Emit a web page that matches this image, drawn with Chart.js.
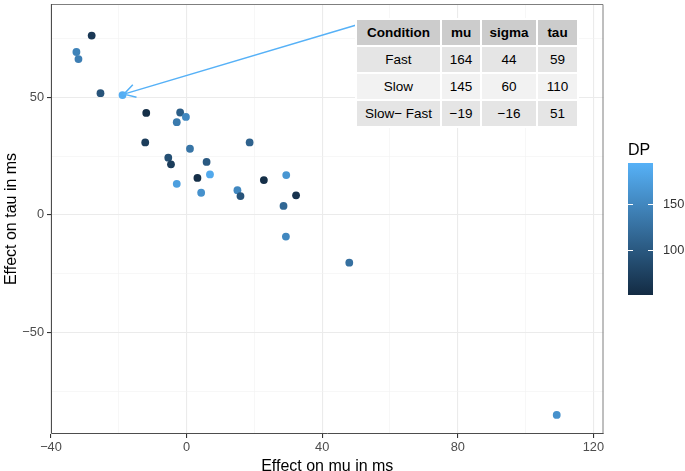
<!DOCTYPE html>
<html>
<head>
<meta charset="utf-8">
<script src="https://cdn.jsdelivr.net/npm/chart.js@4.4.1/dist/chart.umd.min.js"></script>
<style>
  html, body { margin: 0; padding: 0; background: #fff; }
  #wrap { position: relative; width: 685px; height: 471px; font-family: "Liberation Sans", Arial, sans-serif; }
  #chart { position: absolute; left: 0; top: 0; }
  #stats { position: absolute; left: 355px; top: 18px; border-collapse: separate; border-spacing: 2px; background: #fff; font-size: 13.5px; color: #000; }
  #stats td, #stats th { height: 25px; padding: 0; text-align: center; }
  #stats th { background: #cccccc; font-weight: bold; }
  #stats tr:nth-child(odd) td { background: #e5e5e5; }
  #stats tr:nth-child(even) td { background: #f2f2f2; }
</style>
</head>
<body>
<div id="wrap">
  <canvas id="chart" width="685" height="471"></canvas>
  <table id="stats"><thead></thead><tbody></tbody></table>
</div>
<script>
// effect per participant (ms)
const muEffect  = [-28.0, -32.5, -31.9, -25.4, -18.9, -11.9, -1.9, -2.9, -0.2, -12.2,
                   1.0, -5.4, -4.6, 5.9, 3.2, 6.9, -2.9, 4.3, 15.0, 15.9,
                   18.6, 22.8, 29.4, 32.3, 28.6, 29.3, 48.0, 109.2];
const tauEffect = [76.2, 69.2, 66.2, 51.7, 50.9, 43.3, 43.5, 39.4, 41.6, 30.8,
                   28.1, 24.3, 21.5, 22.5, 15.7, 17.2, 13.2, 9.4, 10.5, 8.0,
                   30.8, 14.8, 16.9, 8.3, 3.8, -9.2, -20.3, -85.0];
const dpValues  = [65, 145, 140, 95, 190, 55, 105, 135, 150, 70,
                   130, 90, 70, 100, 55, 185, 175, 160, 150, 95,
                   110, 55, 165, 60, 115, 150, 125, 160];

const dpLimits = [51, 194];
const dpTicks = [100, 150];

const xTickLabels = [-40, 0, 40, 80, 120];
const yTickLabels = [-50, 0, 50];

// arrow from the table to the averaged point
const arrowFrom = [50.1, 80.7];
const arrowTo = [-18.5, 51.3];

const tableHeader = ['Condition', 'mu', 'sigma', 'tau'];
const tableRows = [
  ['Fast', '164', '44', '59'],
  ['Slow', '145', '60', '110'],
  ['Slow\u2212 Fast', '\u221219', '\u221216', '51']
];

const FONT = '"Liberation Sans", Arial, sans-serif';
const lowCol = [19, 43, 67];
const highCol = [86, 177, 247];

function dpColor(v) {
  let t = (v - dpLimits[0]) / (dpLimits[1] - dpLimits[0]);
  t = Math.max(0, Math.min(1, t));
  const c = lowCol.map((l, i) => Math.round(l + (highCol[i] - l) * t));
  return `rgb(${c[0]},${c[1]},${c[2]})`;
}

function fmt(v) {
  return v < 0 ? '\u2212' + Math.abs(v) : String(v);
}

// table
document.querySelector('#stats thead').innerHTML =
  '<tr>' + tableHeader.map((h, i) => `<th style="width:${[83, 38, 54, 39][i]}px">${h}</th>`).join('') + '</tr>';
document.querySelector('#stats tbody').innerHTML =
  tableRows.map(r => '<tr>' + r.map(c => `<td>${c}</td>`).join('') + '</tr>').join('');

const extras = {
  id: 'extras',
  afterDatasetsDraw(chart) {
    const { ctx, chartArea: a, scales: { x, y } } = chart;
    ctx.save();
    // panel border
    ctx.lineWidth = 1;
    ctx.strokeStyle = '#7f7f7f';
    ctx.beginPath();
    ctx.moveTo(a.left, a.top + 0.5);
    ctx.lineTo(a.right - 0.5, a.top + 0.5);
    ctx.lineTo(a.right - 0.5, a.bottom);
    ctx.stroke();
    ctx.strokeStyle = '#4d4d4d';
    ctx.beginPath();
    ctx.moveTo(a.left + 0.5, a.top);
    ctx.lineTo(a.left + 0.5, a.bottom - 0.5);
    ctx.lineTo(a.right, a.bottom - 0.5);
    ctx.stroke();

    // arrow
    const x0 = x.getPixelForValue(arrowFrom[0]), y0 = y.getPixelForValue(arrowFrom[1]);
    const x1 = x.getPixelForValue(arrowTo[0]), y1 = y.getPixelForValue(arrowTo[1]);
    ctx.strokeStyle = '#56B1F7';
    ctx.lineWidth = 1.5;
    ctx.beginPath();
    ctx.moveTo(x0, y0);
    ctx.lineTo(x1, y1);
    const ang = Math.atan2(y0 - y1, x0 - x1);
    const len = 13, spread = Math.PI / 6;
    ctx.moveTo(x1 + len * Math.cos(ang + spread), y1 + len * Math.sin(ang + spread));
    ctx.lineTo(x1, y1);
    ctx.lineTo(x1 + len * Math.cos(ang - spread), y1 + len * Math.sin(ang - spread));
    ctx.stroke();

    // colour bar legend
    const bx = 628, bw = 25, bt = 163, bb = 295;
    const g = ctx.createLinearGradient(0, bb, 0, bt);
    g.addColorStop(0, dpColor(dpLimits[0]));
    g.addColorStop(0.5, dpColor((dpLimits[0] + dpLimits[1]) / 2));
    g.addColorStop(1, dpColor(dpLimits[1]));
    ctx.fillStyle = g;
    ctx.fillRect(bx, bt, bw, bb - bt);
    ctx.font = `16px ${FONT}`;
    ctx.fillStyle = '#000';
    ctx.textBaseline = 'alphabetic';
    ctx.textAlign = 'left';
    ctx.fillText('DP', bx, 155);
    ctx.font = `12.8px ${FONT}`;
    ctx.fillStyle = '#333';
    ctx.textBaseline = 'middle';
    ctx.strokeStyle = '#fff';
    ctx.lineWidth = 1;
    dpTicks.forEach(v => {
      const ty = Math.round(bb - (v - dpLimits[0]) / (dpLimits[1] - dpLimits[0]) * (bb - bt)) + 0.5;
      ctx.beginPath();
      ctx.moveTo(bx, ty); ctx.lineTo(bx + 5, ty);
      ctx.moveTo(bx + bw - 5, ty); ctx.lineTo(bx + bw, ty);
      ctx.stroke();
      ctx.fillText(String(v), bx + bw + 10, ty);
    });
    ctx.restore();
  }
};

const isMajor = (v, step) => Math.abs(v % step) < 1e-6;

new Chart(document.getElementById('chart'), {
  type: 'scatter',
  data: {
    datasets: [{
      data: muEffect.map((m, i) => ({ x: m, y: tauEffect[i] })),
      backgroundColor: dpValues.map(dpColor),
      borderWidth: 0,
      pointRadius: 3.9
    }]
  },
  options: {
    responsive: false,
    animation: false,
    layout: { padding: { left: 0, right: 81.5, top: 1, bottom: 0 } },
    plugins: { legend: { display: false }, tooltip: { enabled: false } },
    scales: {
      x: {
        type: 'linear',
        min: -40, max: 123,
        afterFit: s => { s.height = 37; s.paddingLeft = 0; s.paddingRight = 0; },
        border: { display: false },
        grid: {
          color: c => isMajor(c.tick.value, 40) ? '#ebebeb' : '#f2f2f2',
          lineWidth: c => isMajor(c.tick.value, 40) ? 1.1 : 0.6,
          tickColor: c => isMajor(c.tick.value, 40) ? '#333' : 'rgba(0,0,0,0)',
          tickLength: 4
        },
        ticks: {
          stepSize: 20, includeBounds: false, maxRotation: 0, autoSkip: false, padding: 2,
          color: '#4d4d4d', font: { family: FONT, size: 12.8 },
          callback: v => xTickLabels.includes(v) ? fmt(v) : ''
        },
        title: { display: true, text: 'Effect on mu in ms', color: '#000',
                 font: { family: FONT, size: 16, lineHeight: 0.6 }, padding: { top: 0, bottom: 0 } }
      },
      y: {
        type: 'linear',
        min: -93.1, max: 89.6,
        afterFit: s => { s.width = 51; s.paddingTop = 0; s.paddingBottom = 0; },
        border: { display: false },
        grid: {
          color: c => isMajor(c.tick.value, 50) ? '#ebebeb' : '#f2f2f2',
          lineWidth: c => isMajor(c.tick.value, 50) ? 1.1 : 0.6,
          tickColor: c => isMajor(c.tick.value, 50) ? '#333' : 'rgba(0,0,0,0)',
          tickLength: 4
        },
        ticks: {
          stepSize: 25, includeBounds: false, autoSkip: false, padding: 3,
          color: '#4d4d4d', font: { family: FONT, size: 12.8 },
          callback: v => yTickLabels.includes(v) ? fmt(v) : ''
        },
        title: { display: true, text: 'Effect on tau in ms', color: '#000',
                 font: { family: FONT, size: 16, lineHeight: 1.2 }, padding: { top: 2, bottom: 0 } }
      }
    }
  },
  plugins: [extras]
});
</script>
</body>
</html>
